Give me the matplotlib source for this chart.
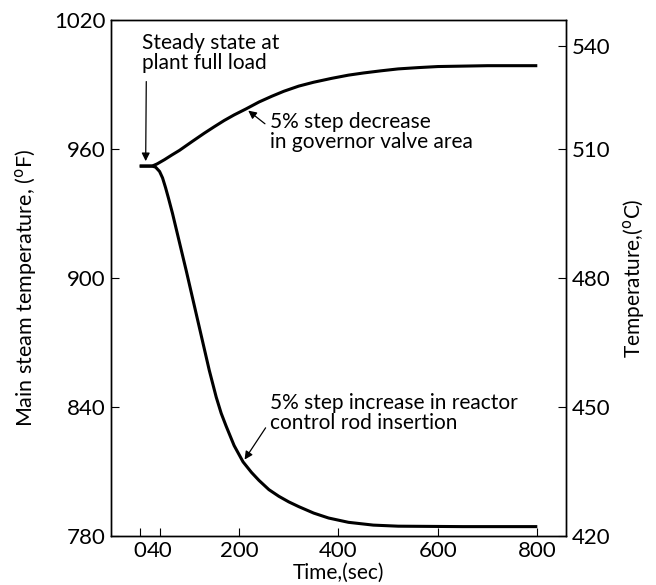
import matplotlib.pyplot as plt

plt.rcParams['font.family'] = ['Lato', 'DejaVu Sans']

# time (sec) and main steam temperature (degF)
t_gov = [0, 25, 35, 50, 65, 80, 106, 130, 150, 170, 190, 214, 240, 266, 290, 320,
         350, 386, 420, 450, 485, 520, 560, 600, 700, 800]
temp_gov = [952, 952, 953, 955, 957.2, 959.3, 963.5, 967.3, 970.3, 973.2, 975.8,
            978.6, 981.8, 984.5, 986.8, 989.2, 991, 992.8, 994.3, 995.3, 996.3,
            997.2, 997.8, 998.3, 998.7, 998.7]

t_rod = [0, 25, 32, 40, 46, 52, 58, 66, 80, 94, 120, 140, 154, 164, 174, 190, 208,
         225, 240, 260, 280, 300, 320, 350, 380, 420, 470, 520, 650, 800]
temp_rod = [952, 952, 951.5, 949.5, 946.5, 942, 937, 930, 916.5, 903, 877, 857,
            844.5, 837, 831, 822, 814.4, 809.5, 805.8, 801.5, 798.4, 795.8, 793.6,
            790.6, 788.3, 786.3, 785, 784.5, 784.3, 784.3]

x_ticks = [0, 40, 200, 400, 600, 800]
x_labels = ['0', '40', '200', '400', '600', '800']
f_ticks = [780, 840, 900, 960, 1020]
c_labels = ['420', '450', '480', '510', '540']
c_pos = [780, 840, 900, 960, 1008]   # where the degC labels sit on the degF scale

fig = plt.figure(figsize=(6.56, 5.85), dpi=100)
ax = fig.add_axes([0.169, 0.084, 0.694, 0.882])

ax.plot(t_gov, temp_gov, color='black', lw=2.2, solid_capstyle='butt')
ax.plot(t_rod, temp_rod, color='black', lw=2.2, solid_capstyle='butt')

ax.set_xlim(-58, 858)
ax.set_ylim(780, 1020)
ax.set_xticks(x_ticks)
ax.set_xticklabels(x_labels)
ax.set_yticks(f_ticks)
ax.tick_params(direction='in', length=6, width=0.8, labelsize=16, pad=4)
ax.set_xlabel('Time,(sec)', fontsize=15, labelpad=1)
ax.set_ylabel(r'Main steam temperature, (${}^{\rm o}$F)', fontsize=15.5)
ax.yaxis.set_label_coords(-0.158, 0.48)

ax2 = ax.twinx()
ax2.set_ylim(ax.get_ylim())
ax2.set_yticks(c_pos)
ax2.set_yticklabels(c_labels)
ax2.tick_params(direction='in', length=6, width=0.8, labelsize=16, pad=4)
ax2.set_ylabel(r'Temperature,(${}^{\rm o}$C)', fontsize=15)
ax2.yaxis.set_label_coords(1.12, 0.5)

for a in (ax, ax2):
    for s in a.spines.values():
        s.set_linewidth(1.0)

arrow = dict(arrowstyle='-|>', color='black', lw=0.9, mutation_scale=12)

ax.annotate('Steady state at\nplant full load', xy=(12, 953), xytext=(5, 1014),
            fontsize=15, ha='left', va='top', linespacing=1.0,
            arrowprops=dict(arrowstyle='-|>', color='black', lw=0.9,
                            mutation_scale=12, relpos=(0.03, -0.15)))
ax.annotate('5% step decrease\nin governor valve area', xy=(214, 978.6),
            xytext=(262, 968), fontsize=15, ha='left', va='center',
            linespacing=1.0, arrowprops=dict(arrow, relpos=(0, 0.6)))
ax.annotate('5% step increase in reactor\ncontrol rod insertion', xy=(208, 814.4),
            xytext=(262, 837), fontsize=15, ha='left', va='center',
            linespacing=1.0, arrowprops=dict(arrow, relpos=(0, 0.3)))

fig.savefig('out.png', dpi=100)
